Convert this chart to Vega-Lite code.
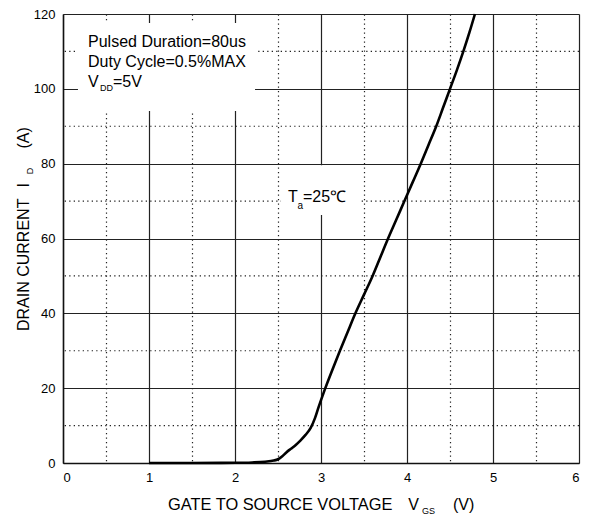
{
  "$schema": "https://vega.github.io/schema/vega-lite/v6.json",
  "width": 516,
  "height": 449,
  "autosize": {"type": "none"},
  "padding": {"left": 63, "top": 14, "right": 14, "bottom": 55},
  "background": "white",
  "config": {
    "view": {"stroke": null},
    "font": "Liberation Sans",
    "text": {"font": "Liberation Sans", "color": "black"},
    "rule": {"color": "#222", "strokeWidth": 1.2, "strokeDash": [1.3, 3.2]}
  },
  "datasets": {
    "one": [{"k": 1}]
  },
  "layer": [
    {"data": {"name": "one"}, "mark": "rule", "encoding": {"y": {"datum": 10, "type": "quantitative"}}},
    {"data": {"name": "one"}, "mark": "rule", "encoding": {"y": {"datum": 30, "type": "quantitative"}}},
    {"data": {"name": "one"}, "mark": "rule", "encoding": {"y": {"datum": 50, "type": "quantitative"}}},
    {"data": {"name": "one"}, "mark": "rule", "encoding": {"y": {"datum": 70, "type": "quantitative"}}},
    {"data": {"name": "one"}, "mark": "rule", "encoding": {"y": {"datum": 90, "type": "quantitative"}}},
    {"data": {"name": "one"}, "mark": "rule", "encoding": {"y": {"datum": 110, "type": "quantitative"}}},
    {
      "data": {
        "values": [
          {"vgs": 1.0, "id": 0},
          {"vgs": 1.5, "id": 0},
          {"vgs": 2.0, "id": 0.05},
          {"vgs": 2.2, "id": 0.15},
          {"vgs": 2.35, "id": 0.35},
          {"vgs": 2.45, "id": 0.65},
          {"vgs": 2.5, "id": 1.0},
          {"vgs": 2.55, "id": 1.8},
          {"vgs": 2.6, "id": 2.9},
          {"vgs": 2.65, "id": 3.8},
          {"vgs": 2.7, "id": 4.7},
          {"vgs": 2.76, "id": 6.0},
          {"vgs": 2.82, "id": 7.5},
          {"vgs": 2.88, "id": 9.4},
          {"vgs": 2.93, "id": 12},
          {"vgs": 2.97, "id": 14.8},
          {"vgs": 3.0, "id": 16.8},
          {"vgs": 3.05, "id": 20},
          {"vgs": 3.12, "id": 24.2},
          {"vgs": 3.22, "id": 30},
          {"vgs": 3.31, "id": 35},
          {"vgs": 3.4, "id": 40},
          {"vgs": 3.5, "id": 45},
          {"vgs": 3.6, "id": 50},
          {"vgs": 3.69, "id": 55},
          {"vgs": 3.78, "id": 60},
          {"vgs": 3.875, "id": 65},
          {"vgs": 3.97, "id": 70},
          {"vgs": 4.065, "id": 75},
          {"vgs": 4.16, "id": 80},
          {"vgs": 4.25, "id": 85},
          {"vgs": 4.34, "id": 90},
          {"vgs": 4.42, "id": 95},
          {"vgs": 4.5, "id": 100},
          {"vgs": 4.58, "id": 105},
          {"vgs": 4.655, "id": 110},
          {"vgs": 4.725, "id": 115},
          {"vgs": 4.79, "id": 120}
        ]
      },
      "mark": {"type": "line", "color": "black", "strokeWidth": 2.6, "interpolate": "monotone"},
      "encoding": {
        "x": {
          "field": "vgs",
          "type": "quantitative",
          "scale": {"domain": [0, 6], "nice": false, "zero": false},
          "axis": {
            "title": null,
            "values": [0, 0.5, 1, 1.5, 2, 2.5, 3, 3.5, 4, 4.5, 5, 5.5, 6],
            "labelExpr": "datum.value % 1 === 0 ? format(datum.value, 'd') : ''",
            "labelFontSize": 13,
            "labelColor": "black",
            "labelPadding": 8,
            "labelFont": "Liberation Sans",
            "ticks": false,
            "domain": true,
            "domainColor": "#111",
            "domainWidth": 1.5,
            "grid": true,
            "gridColor": "#222",
            "gridOpacity": 1,
            "gridWidth": 1.2,
            "gridDash": {"condition": {"test": "datum.value % 1 !== 0", "value": [1.3, 3.2]}, "value": []}
          }
        },
        "y": {
          "field": "id",
          "type": "quantitative",
          "scale": {"domain": [0, 120], "nice": false},
          "axis": {
            "title": null,
            "values": [0, 20, 40, 60, 80, 100, 120],
            "format": "d",
            "labelFontSize": 13,
            "labelColor": "black",
            "labelPadding": 8,
            "labelFont": "Liberation Sans",
            "ticks": false,
            "domain": true,
            "domainColor": "#111",
            "domainWidth": 1.5,
            "grid": true,
            "gridColor": "#222",
            "gridOpacity": 1,
            "gridWidth": 1.2
          }
        }
      }
    },
    {
      "data": {"name": "one"},
      "mark": {"type": "rect", "color": "white", "opacity": 1},
      "encoding": {
        "x": {"datum": 0.174, "type": "quantitative"},
        "x2": {"datum": 2.233},
        "y": {"datum": 117.6, "type": "quantitative"},
        "y2": {"datum": 94.07}
      }
    },
    {
      "data": {"name": "one"},
      "mark": {"type": "rect", "color": "white", "opacity": 1},
      "encoding": {
        "x": {"datum": 2.535, "type": "quantitative"},
        "x2": {"datum": 3.442},
        "y": {"datum": 79.6, "type": "quantitative"},
        "y2": {"datum": 66.3}
      }
    },
    {
      "data": {"name": "one"},
      "mark": {"type": "text", "text": "Pulsed Duration=80us", "fontSize": 16, "align": "left", "baseline": "alphabetic"},
      "encoding": {"x": {"datum": 0.291, "type": "quantitative"}, "y": {"datum": 111.2, "type": "quantitative"}}
    },
    {
      "data": {"name": "one"},
      "mark": {"type": "text", "text": "Duty Cycle=0.5%MAX", "fontSize": 16, "align": "left", "baseline": "alphabetic"},
      "encoding": {"x": {"datum": 0.291, "type": "quantitative"}, "y": {"datum": 105.9, "type": "quantitative"}}
    },
    {
      "data": {"name": "one"},
      "mark": {"type": "text", "text": "V", "fontSize": 16, "align": "left", "baseline": "alphabetic"},
      "encoding": {"x": {"datum": 0.291, "type": "quantitative"}, "y": {"datum": 100.6, "type": "quantitative"}}
    },
    {
      "data": {"name": "one"},
      "mark": {"type": "text", "text": "DD", "fontSize": 9, "align": "left", "baseline": "alphabetic"},
      "encoding": {"x": {"datum": 0.43, "type": "quantitative"}, "y": {"datum": 99.3, "type": "quantitative"}}
    },
    {
      "data": {"name": "one"},
      "mark": {"type": "text", "text": "=5V", "fontSize": 16, "align": "left", "baseline": "alphabetic"},
      "encoding": {"x": {"datum": 0.581, "type": "quantitative"}, "y": {"datum": 100.6, "type": "quantitative"}}
    },
    {
      "data": {"name": "one"},
      "mark": {"type": "text", "text": "T", "fontSize": 16, "align": "left", "baseline": "alphabetic"},
      "encoding": {"x": {"datum": 2.616, "type": "quantitative"}, "y": {"datum": 69.83, "type": "quantitative"}}
    },
    {
      "data": {"name": "one"},
      "mark": {"type": "text", "text": "a", "fontSize": 10, "align": "left", "baseline": "alphabetic"},
      "encoding": {"x": {"datum": 2.727, "type": "quantitative"}, "y": {"datum": 67.88, "type": "quantitative"}}
    },
    {
      "data": {"name": "one"},
      "mark": {"type": "text", "text": "=25℃", "fontSize": 16, "align": "left", "baseline": "alphabetic"},
      "encoding": {"x": {"datum": 2.791, "type": "quantitative"}, "y": {"datum": 69.83, "type": "quantitative"}}
    },
    {
      "data": {"name": "one"},
      "mark": {"type": "text", "text": "GATE TO SOURCE VOLTAGE", "fontSize": 16.4, "align": "left", "baseline": "alphabetic"},
      "encoding": {"x": {"datum": 1.221, "type": "quantitative"}, "y": {"datum": -12.56, "type": "quantitative"}}
    },
    {
      "data": {"name": "one"},
      "mark": {"type": "text", "text": "V", "fontSize": 16, "align": "left", "baseline": "alphabetic"},
      "encoding": {"x": {"datum": 4.015, "type": "quantitative"}, "y": {"datum": -12.56, "type": "quantitative"}}
    },
    {
      "data": {"name": "one"},
      "mark": {"type": "text", "text": "GS", "fontSize": 9, "align": "left", "baseline": "alphabetic"},
      "encoding": {"x": {"datum": 4.174, "type": "quantitative"}, "y": {"datum": -13.63, "type": "quantitative"}}
    },
    {
      "data": {"name": "one"},
      "mark": {"type": "text", "text": "(V)", "fontSize": 16, "align": "left", "baseline": "alphabetic"},
      "encoding": {"x": {"datum": 4.535, "type": "quantitative"}, "y": {"datum": -12.56, "type": "quantitative"}}
    },
    {
      "data": {"name": "one"},
      "mark": {"type": "text", "text": "DRAIN CURRENT", "fontSize": 16, "align": "left", "baseline": "alphabetic", "angle": 270},
      "encoding": {"x": {"datum": -0.4, "type": "quantitative"}, "y": {"datum": 35.27, "type": "quantitative"}}
    },
    {
      "data": {"name": "one"},
      "mark": {"type": "text", "text": "I", "fontSize": 16, "align": "left", "baseline": "alphabetic", "angle": 270},
      "encoding": {"x": {"datum": -0.4, "type": "quantitative"}, "y": {"datum": 73.6, "type": "quantitative"}}
    },
    {
      "data": {"name": "one"},
      "mark": {"type": "text", "text": "D", "fontSize": 9, "align": "left", "baseline": "alphabetic", "angle": 270},
      "encoding": {"x": {"datum": -0.345, "type": "quantitative"}, "y": {"datum": 77.2, "type": "quantitative"}}
    },
    {
      "data": {"name": "one"},
      "mark": {"type": "text", "text": "(A)", "fontSize": 16, "align": "left", "baseline": "alphabetic", "angle": 270},
      "encoding": {"x": {"datum": -0.4, "type": "quantitative"}, "y": {"datum": 84.05, "type": "quantitative"}}
    }
  ]
}
